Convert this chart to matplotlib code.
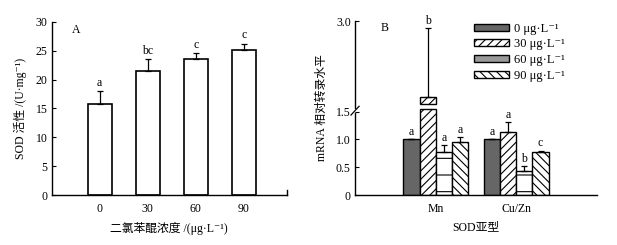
import numpy as np
import matplotlib
matplotlib.use("Agg")
import matplotlib.pyplot as plt
from matplotlib.patches import Patch

plt.rcParams['font.family'] = ['Liberation Serif', 'DejaVu Serif', 'Noto Sans CJK SC']
plt.rcParams['hatch.linewidth'] = 0.8
FS = 8.5

# ---- Panel A data ----
concs = ['0', '30', '60', '90']
sod_act = [15.7, 21.5, 23.5, 25.2]
sod_err = [2.3, 2.0, 1.1, 1.0]
sod_letters = ['a', 'bc', 'c', 'c']

# ---- Panel B data ----
groups = ['Mn', 'Cu/Zn']
series_labels = ['0 μg·L⁻¹', '30 μg·L⁻¹', '60 μg·L⁻¹', '90 μg·L⁻¹']
mrna = {
    '0': [1.00, 1.00],
    '30': [1.75, 1.14],
    '60': [0.78, 0.44],
    '90': [0.96, 0.77],
}
mrna_err = {
    '0': [0.0, 0.0],
    '30': [1.14, 0.18],
    '60': [0.12, 0.08],
    '90': [0.09, 0.03],
}
mrna_letters = {
    '0': ['a', 'a'],
    '30': ['b', 'a'],
    '60': ['a', 'b'],
    '90': ['a', 'c'],
}

fig = plt.figure(figsize=(6.17, 2.45), dpi=100)

# ===== Panel A =====
axA = fig.add_axes([0.0838, 0.204, 0.465 - 0.0838, 0.911 - 0.204])
x = np.arange(len(concs))
axA.bar(x, sod_act, width=0.5, color='white', edgecolor='black', linewidth=1.2, zorder=2)
axA.errorbar(x, sod_act, yerr=[np.zeros(len(x)), sod_err], fmt='none', ecolor='black',
             elinewidth=0.9, capsize=2.5, capthick=0.9, zorder=3)
for xi, v, e, l in zip(x, sod_act, sod_err, sod_letters):
    axA.text(xi, v + e + 0.4, l, ha='center', va='bottom', fontsize=FS)
axA.set_xlim(-1.0, 3.9)
axA.set_ylim(0, 30)
axA.set_yticks(np.arange(0, 31, 5))
axA.set_xticks(x)
axA.set_xticklabels(concs)
axA.tick_params(axis='x', length=0, labelsize=FS, pad=6)
axA.tick_params(axis='y', direction='in', length=3, labelsize=FS, pad=3)
for s in ['top', 'right']:
    axA.spines[s].set_visible(False)
for s in ['left', 'bottom']:
    axA.spines[s].set_linewidth(1.0)
axA.plot([1, 1], [0, 0.03], transform=axA.transAxes, color='black', lw=1.0, clip_on=False)
axA.text(0.085, 0.99, 'A', transform=axA.transAxes, fontsize=FS, va='top')
axA.set_ylabel('SOD 活性 /(U·mg⁻¹)', fontsize=FS, labelpad=6)
axA.set_xlabel('二氯苯醌浓度 /(μg·L⁻¹)', fontsize=FS, labelpad=5)

# ===== Panel B =====
k = 60.5 / 55.6
brk = 1.5

def fwd(y):
    y = np.asarray(y, dtype=float)
    return np.where(y <= brk, y, brk + (y - brk) * k)

def inv(y):
    y = np.asarray(y, dtype=float)
    return np.where(y <= brk, y, brk + (y - brk) / k)

axB = fig.add_axes([0.5754, 0.204, 0.9676 - 0.5754, 0.914 - 0.204])
axB.set_yscale('function', functions=(fwd, inv))
gx = np.arange(len(groups))
w = 0.2
offsets = [-0.3, -0.1, 0.1, 0.3]
faces = ['#666666', 'white', 'white', 'white']
hatches = [None, '////', '-', '\\\\\\\\']
keys = ['0', '30', '60', '90']
gap_lo, gap_hi = 1.54, 1.62
for key, off, fc, h in zip(keys, offsets, faces, hatches):
    vals = np.array(mrna[key])
    errs = np.array(mrna_err[key])
    xs = gx + off
    for xi, v in zip(xs, vals):
        if v > gap_hi:
            axB.bar(xi, gap_lo, width=w, color=fc, edgecolor='black', hatch=h, linewidth=1.0, zorder=2)
            axB.bar(xi, v - gap_hi, bottom=gap_hi, width=w, color=fc, edgecolor='black', hatch=h,
                    linewidth=1.0, zorder=2)
        else:
            axB.bar(xi, v, width=w, color=fc, edgecolor='black', hatch=h, linewidth=1.0, zorder=2)
    axB.errorbar(xs, vals, yerr=[np.zeros(len(xs)), errs], fmt='none', ecolor='black',
                 elinewidth=0.9, capsize=2.0, capthick=0.9, zorder=3)
    for xi, v, e, l in zip(xs, vals, errs, mrna_letters[key]):
        axB.text(xi, v + e + 0.02, l, ha='center', va='bottom', fontsize=FS)

axB.set_xlim(-1.0, 2.0)
axB.set_ylim(0, 3.0)
axB.set_yticks([0, 0.5, 1.0, 1.5, 3.0])
axB.set_yticklabels(['0', '0.5', '1.0', '1.5', '3.0'])
axB.set_xticks(gx)
axB.set_xticklabels(groups)
axB.tick_params(axis='x', length=0, labelsize=FS, pad=6)
axB.tick_params(axis='y', direction='in', length=3, labelsize=FS, pad=3)
for s in ['top', 'right', 'left']:
    axB.spines[s].set_visible(False)
axB.spines['bottom'].set_linewidth(1.0)
# broken left spine
axB.plot([-1.0, -1.0], [0, 1.47], color='black', lw=1.0, clip_on=False, zorder=4)
axB.plot([-1.0, -1.0], [1.56, 3.0], color='black', lw=1.0, clip_on=False, zorder=4)
axB.plot([-1.05, -0.95], [1.44, 1.59], color='black', lw=0.9, clip_on=False, zorder=4)
axB.text(0.105, 0.995, 'B', transform=axB.transAxes, fontsize=FS, va='top')
axB.set_ylabel('mRNA 相对转录水平', fontsize=FS, labelpad=6)
axB.set_xlabel('SOD亚型', fontsize=FS, labelpad=4)

handles = [
    Patch(facecolor='#666666', edgecolor='black', linewidth=1.0),
    Patch(facecolor='white', edgecolor='black', hatch='////', linewidth=1.0),
    Patch(facecolor='#999999', edgecolor='black', linewidth=1.0),
    Patch(facecolor='white', edgecolor='black', hatch='\\\\\\\\', linewidth=1.0),
]
axB.legend(handles, series_labels, loc='upper left', bbox_to_anchor=(0.47, 1.02),
           frameon=False, fontsize=FS + 0.5, handlelength=2.8, handleheight=0.5,
           labelspacing=0.3, handletextpad=0.4, borderaxespad=0)

fig.savefig('out.png', dpi=100)
